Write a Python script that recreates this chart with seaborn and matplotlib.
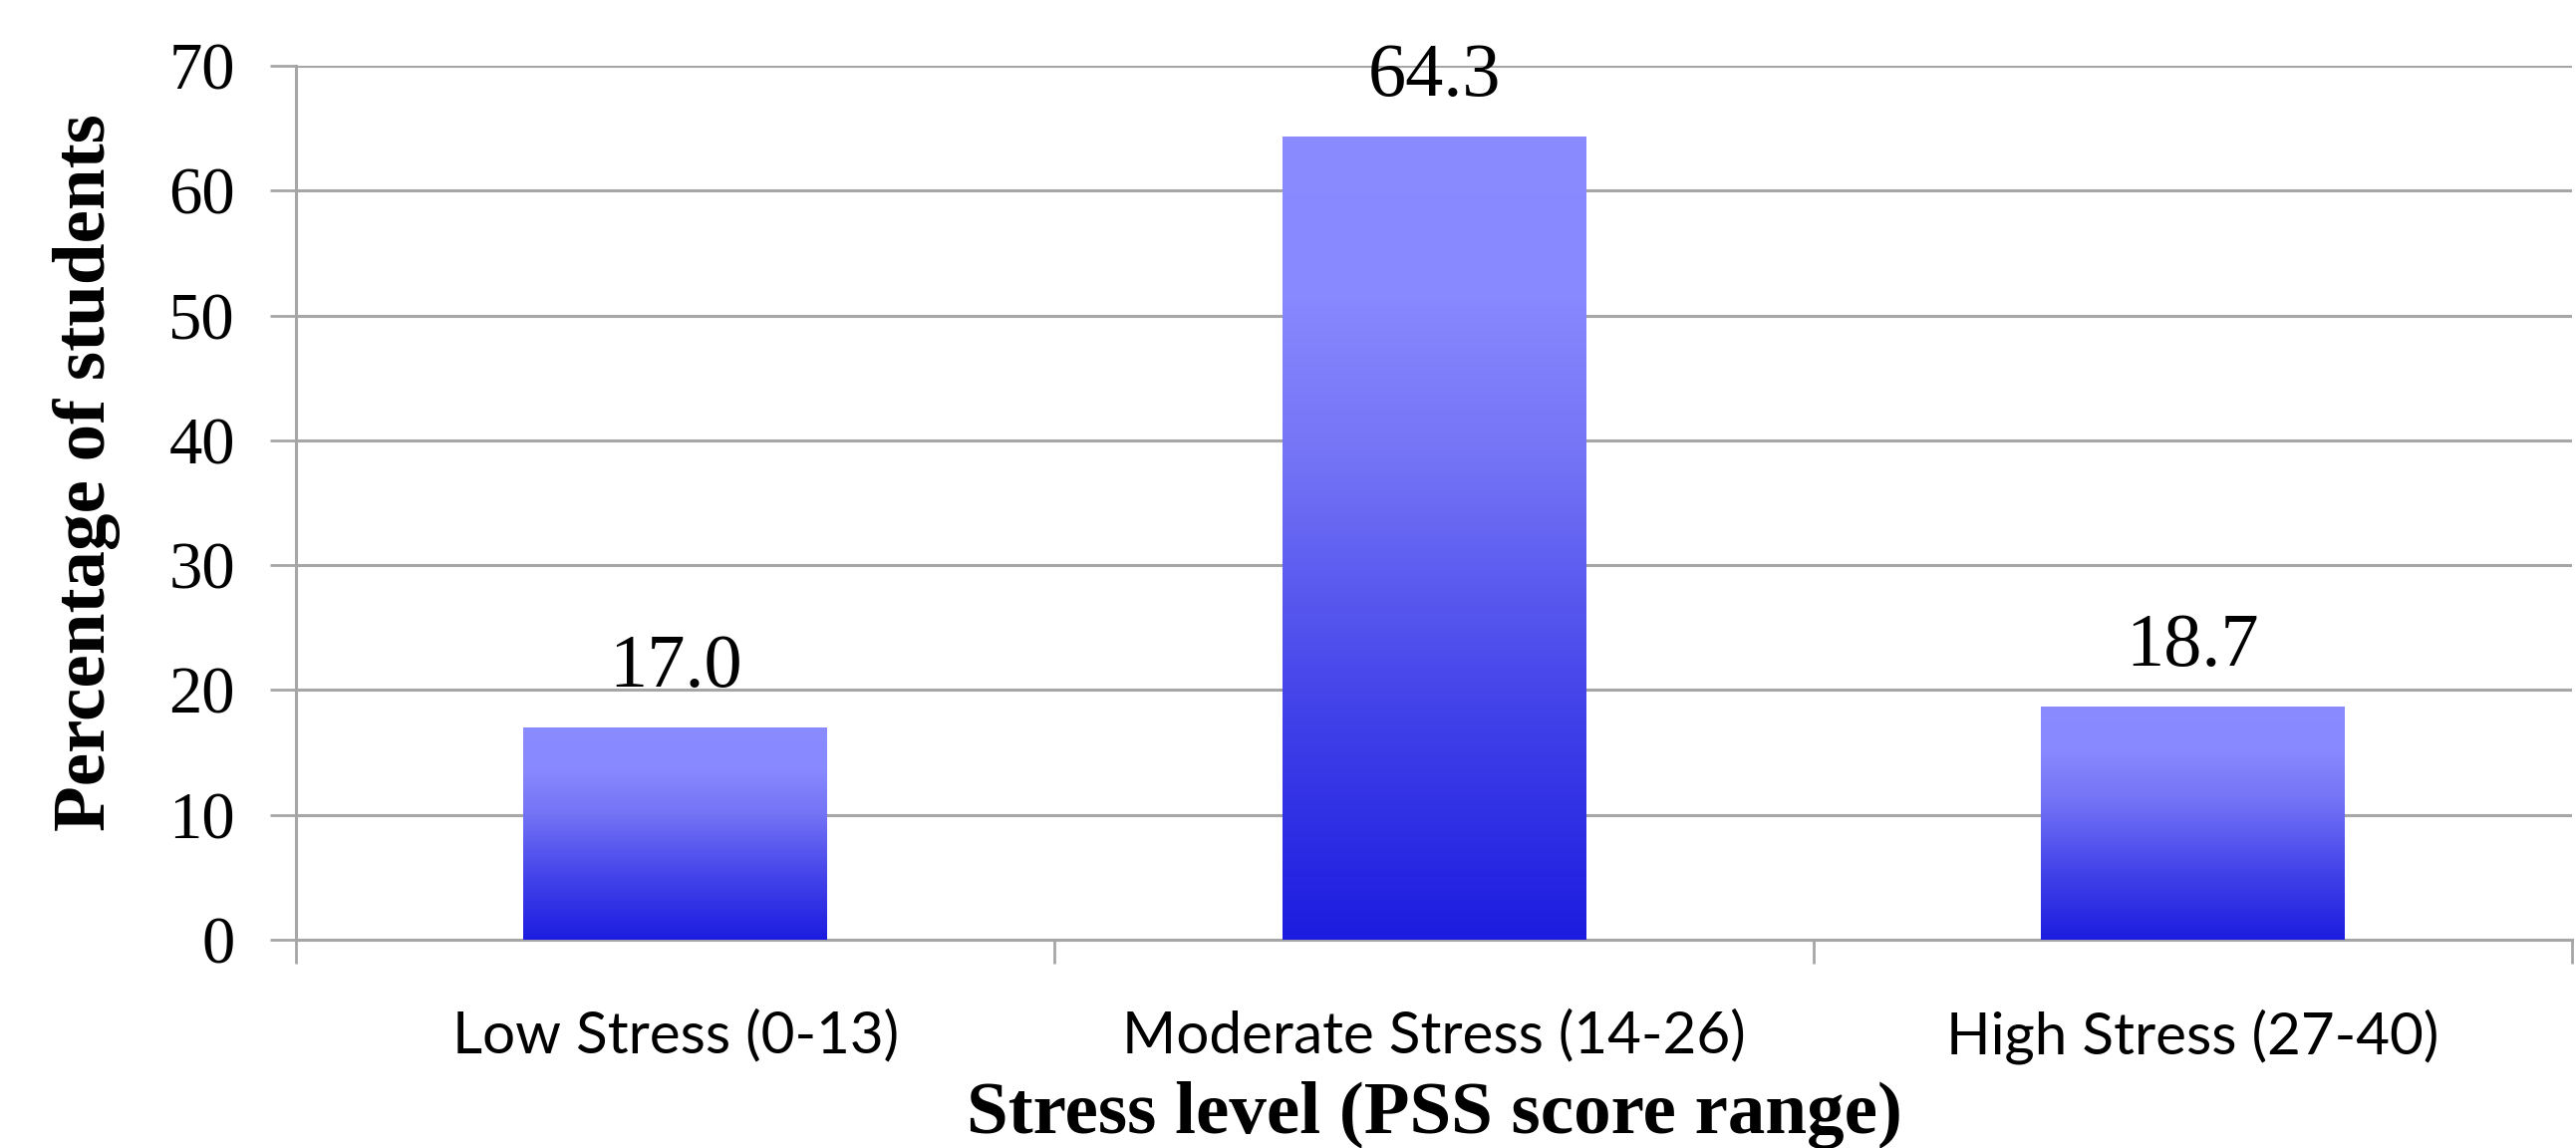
import matplotlib
matplotlib.use('Agg')
import matplotlib.pyplot as plt
import seaborn as sns
import numpy as np
import pandas as pd
from matplotlib.colors import LinearSegmentedColormap

categories = ['Low Stress (0-13)', 'Moderate Stress (14-26)', 'High Stress (27-40)']
percentages = [17.0, 64.3, 18.7]
y_ticks = [0, 10, 20, 30, 40, 50, 60, 70]

df = pd.DataFrame({'level': categories, 'pct': percentages})

sns.set_theme(style='white')
plt.rcParams['font.family'] = ['Liberation Serif', 'DejaVu Serif']
plt.rcParams['text.color'] = 'black'
plt.rcParams['axes.labelcolor'] = 'black'
plt.rcParams['xtick.labelcolor'] = 'black'
plt.rcParams['ytick.labelcolor'] = 'black'

fig = plt.figure(figsize=(25.85, 11.52), dpi=100)
ax = fig.add_axes([0.1149, 0.1814, 0.8836, 0.7613])

sns.barplot(data=df, x='level', y='pct', color='#5555f0', width=0.4, ax=ax,
            saturation=1, zorder=3)

# gradient fill, each bar on its own
grad = LinearSegmentedColormap.from_list(
    'bluegrad', [(0.0, '#1c1ce0'), (0.3, '#4444ea'), (0.6, '#7474f6'),
                 (0.8, '#8888ff'), (1.0, '#8b8bff')])
g = np.linspace(0, 1, 256).reshape(-1, 1)
for bar in ax.patches:
    x0, y0 = bar.get_x(), bar.get_y()
    w, h = bar.get_width(), bar.get_height()
    bar.set_facecolor('none')
    bar.set_edgecolor('none')
    im = ax.imshow(g, cmap=grad, origin='lower', aspect='auto',
                   extent=[x0, x0 + w, y0, y0 + h], zorder=3)
    im.set_clip_path(bar)

ax.bar_label(ax.containers[0], fmt='%.1f', padding=18, fontsize=55,
             family='Liberation Serif', color='black')

ax.set_xlim(-0.5, 2.5)
ax.set_ylim(0, 70)
ax.set_yticks(y_ticks)
ax.yaxis.grid(True, color='#a6a6a6', linewidth=2.2, zorder=0)
ax.xaxis.grid(False)
ax.set_axisbelow(True)

ax.set_xticks([-0.5, 0.5, 1.5, 2.5])
ax.set_xticklabels([])
ax.set_xticks([0, 1, 2], minor=True)
ax.set_xticklabels(categories, minor=True, fontsize=42,
                   family=['Liberation Sans Narrow', 'Lato', 'DejaVu Sans'])
ax.tick_params(axis='x', which='major', direction='out', length=17, width=2,
               color='#a6a6a6', bottom=True)
ax.tick_params(axis='x', which='minor', length=0, pad=50, bottom=True)
ax.tick_params(axis='y', direction='out', length=19, width=2, color='#a6a6a6',
               labelsize=48, pad=25, left=True)

for side in ['top', 'right']:
    ax.spines[side].set_visible(False)
for side in ['left', 'bottom']:
    ax.spines[side].set_color('#a6a6a6')
    ax.spines[side].set_linewidth(2.2)

ax.set_xlabel('Stress level (PSS score range)', fontsize=54, fontweight='bold',
              labelpad=12)
ax.set_ylabel('Percentage of students', fontsize=54, fontweight='bold')
ax.yaxis.set_label_coords(-0.077, 0.535)

fig.savefig('out.png', dpi=100)
plt.close(fig)
